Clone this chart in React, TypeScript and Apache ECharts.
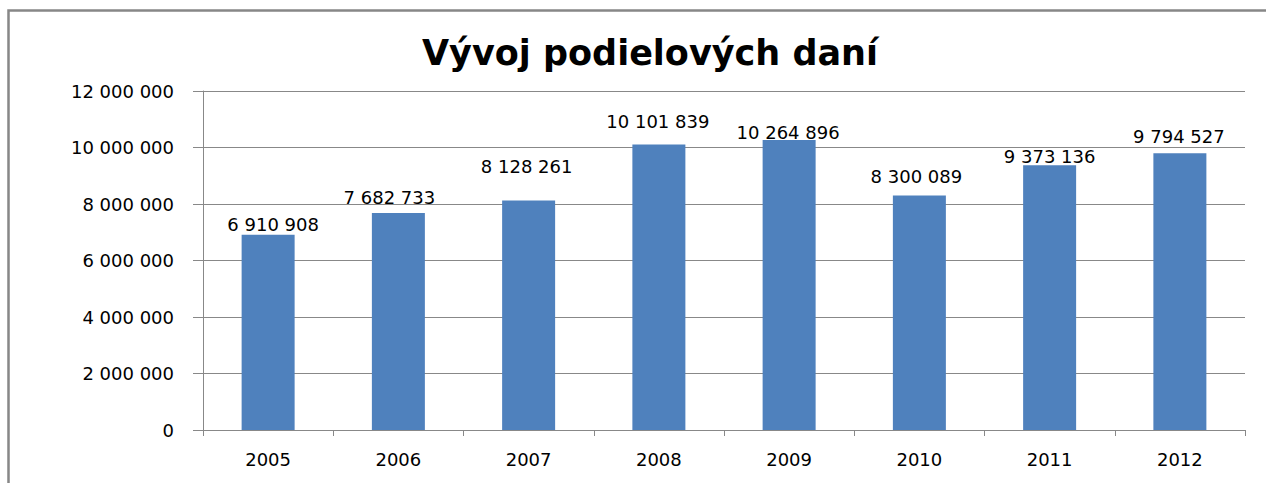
import React, { useEffect, useRef } from "react";
import * as echarts from "echarts";

const categories = ["2005", "2006", "2007", "2008", "2009", "2010", "2011", "2012"];
const values = [6910908, 7682733, 8128261, 10101839, 10264896, 8300089, 9373136, 9794527];
const titleText = "Vývoj podielových daní";
// label nudges (styling only), [dx, dy]
const labelNudges = [[5, 3], [-9, -2], [-2, -21], [-1, -10], [-1, 5], [-3, -6], [0, 4], [-1, -4]];

const fmt = (v: number) => String(Math.round(v)).replace(/\B(?=(\d{3})+(?!\d))/g, " ");

export default function App() {
  const ref = useRef<HTMLDivElement>(null);
  useEffect(() => {
    if (!ref.current) return;
    const chart = echarts.init(ref.current, null, { renderer: "svg" });
    const font = "'DejaVu Sans', Verdana, sans-serif";
    chart.setOption({
      animation: false,
      backgroundColor: "#fff",
      title: {
        text: titleText,
        left: 645,
        top: 30,
        textAlign: "center",
        textStyle: { fontFamily: font, fontWeight: "bold", fontSize: 35, color: "#000" },
      },
      graphic: [
        {
          type: "rect",
          shape: { x: 8.5, y: 10.5, width: 1400, height: 700 },
          style: { fill: "none", stroke: "#878787", lineWidth: 2.5 },
          silent: true,
        },
      ],
      grid: { left: 203, right: 21, top: 91, bottom: 53 },
      xAxis: {
        type: "category",
        data: categories,
        axisLine: { show: true, lineStyle: { color: "#888", opacity: 0 } },
        axisTick: { show: true, length: 6, lineStyle: { color: "#888", width: 1 } },
        axisLabel: { margin: 20, fontFamily: font, fontSize: 18, color: "#000" },
      },
      yAxis: {
        type: "value",
        min: 0,
        max: 12000000,
        interval: 2000000,
        axisLine: { show: true, lineStyle: { color: "#888", width: 1 } },
        axisTick: { show: true, length: 10, lineStyle: { color: "#888" } },
        splitLine: { show: true, lineStyle: { color: "#888", width: 1 } },
        axisLabel: { margin: 29, fontFamily: font, fontSize: 18, color: "#000", formatter: (v: number) => fmt(v) },
      },
      series: [
        {
          type: "bar",
          barWidth: 53,
          itemStyle: { color: "#4F81BD" },
          data: values.map((v, i) => ({
            value: v,
            label: { offset: labelNudges[i] },
          })),
          label: {
            show: true,
            position: "top",
            distance: 4,
            fontFamily: font,
            fontSize: 18,
            color: "#000",
            formatter: (p: any) => fmt(p.value),
          },
        },
      ],
    });
    return () => chart.dispose();
  }, []);
  return (
    <div
      ref={ref}
      style={{ position: "fixed", left: 0, top: 0, width: 1266, height: 483, background: "#fff" }}
    />
  );
}
